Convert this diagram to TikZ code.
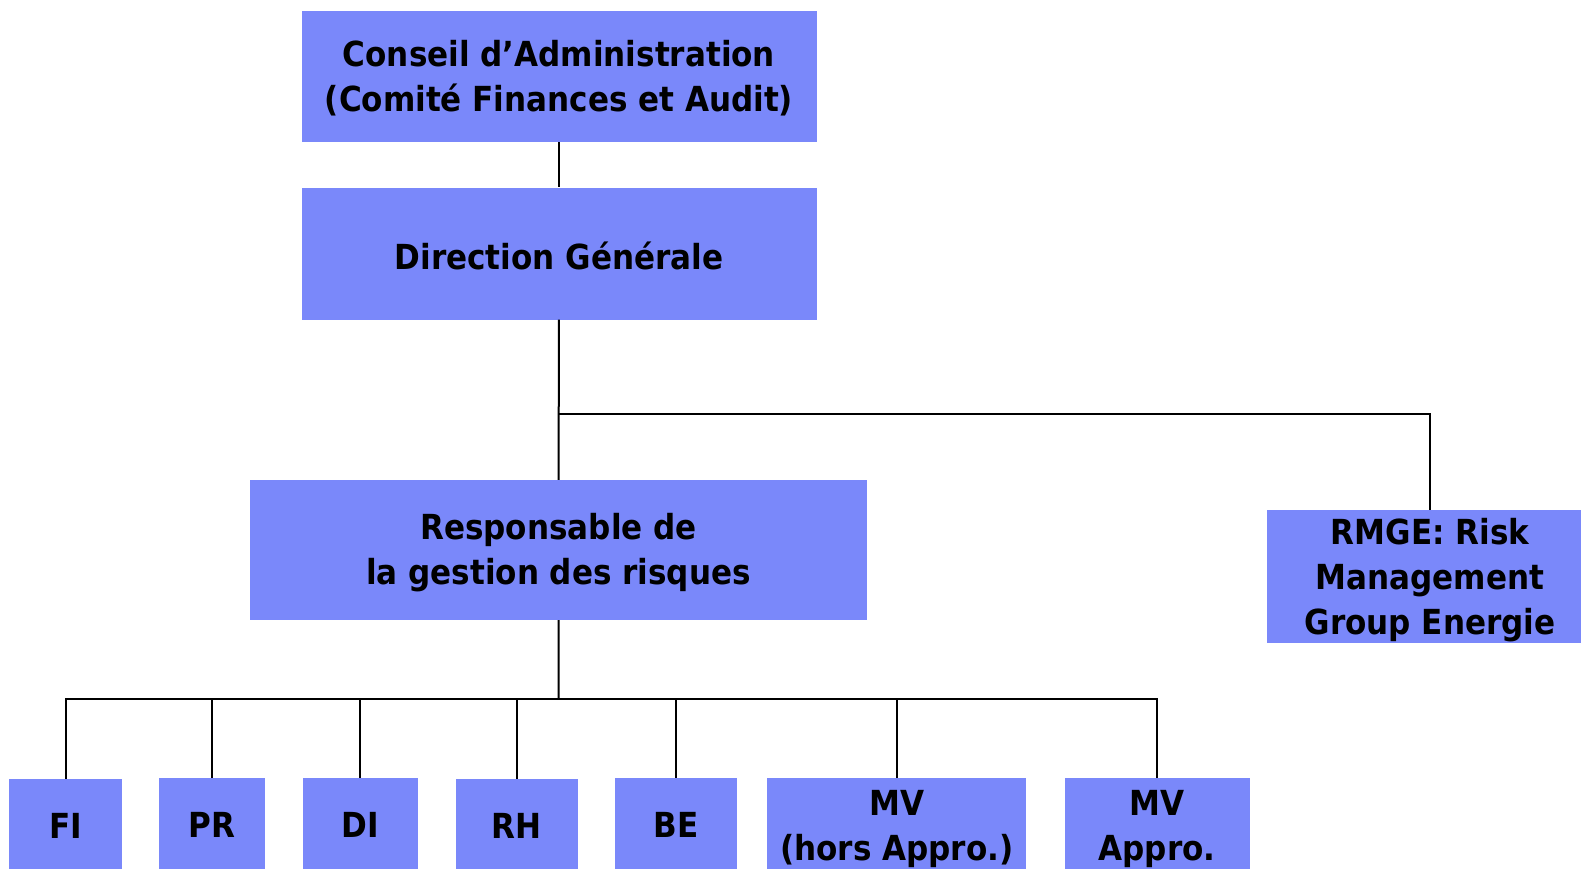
\documentclass[tikz,border=0pt]{standalone}
\usepackage{fontspec}
\setmainfont{DejaVu Sans Condensed}
\definecolor{boxblue}{RGB}{122,136,250}
% lower the printed lines without changing the box they occupy
\newcommand{\lowered}[2]{\raisebox{-#1}[\height][\depth]{#2}}
\begin{document}
\begin{tikzpicture}[x=1pt,y=-1pt,
  orgbox/.style={rectangle, fill=boxblue, inner sep=0pt, align=center,
    font=\fontsize{34.5}{45}\selectfont\bfseries, text=black},
  link/.style={draw=black, line width=2pt}]
\useasboundingbox (0,0) rectangle (1581,868);
\clip (0,0) rectangle (1581,868);

% upper levels
\node[orgbox, minimum width=515pt, minimum height=131pt] (ca) at (559,76.5)
  {\lowered{2pt}{\parbox{505pt}{\centering Conseil d’Administration\\(Comité Finances et Audit)}}};
\node[orgbox, minimum width=515pt, minimum height=132pt] (dg) at (559,253.5)
  {\lowered{2pt}{Direction Générale}};
\node[orgbox, minimum width=617pt, minimum height=140pt] (rgr) at (558.5,550)
  {\lowered{3pt}{\parbox{605pt}{\centering Responsable de\\la gestion des risques}}};
\node[orgbox, minimum width=327pt, minimum height=133pt] (rmge) at (1430,576.5)
  {\lowered{4pt}{\parbox{320pt}{\centering RMGE: Risk\\Management\\Group Energie}}};

% bottom row of units
\node[orgbox, minimum width=113pt, minimum height=94pt] (fi)  at (65.5,826) {FI};
\node[orgbox, minimum width=106pt, minimum height=94pt] (pr)  at (212.3,825) {PR};
\node[orgbox, minimum width=115pt, minimum height=94pt] (di)  at (360,825) {DI};
\node[orgbox, minimum width=122pt, minimum height=94pt] (rh)  at (516.8,826) {RH};
\node[orgbox, minimum width=122pt, minimum height=94pt] (be)  at (676,825) {BE};
\node[orgbox, minimum width=259pt, minimum height=94pt] (mvh) at (896.9,825)
  {\lowered{4pt}{\parbox{255pt}{\centering MV\\(hors Appro.)}}};
\node[orgbox, minimum width=185pt, minimum height=94pt] (mva) at (1157,825)
  {\lowered{4pt}{\parbox{180pt}{\centering MV\\Appro.}}};

% junctions
\coordinate (j1) at (558.6,414.4);
\coordinate (bus) at (558.6,699);

% connectors
\draw[link] (ca) -- (dg);
\draw[link] (dg) -- (rgr);
\draw[link] (j1) -| (rmge);
\draw[link] (rgr) -- (bus);
\draw[link] (fi) |- (bus) -| (mva);
\foreach \u in {pr,di,rh,be,mvh}
  \draw[link] (bus) -| (\u);
\end{tikzpicture}
\end{document}
